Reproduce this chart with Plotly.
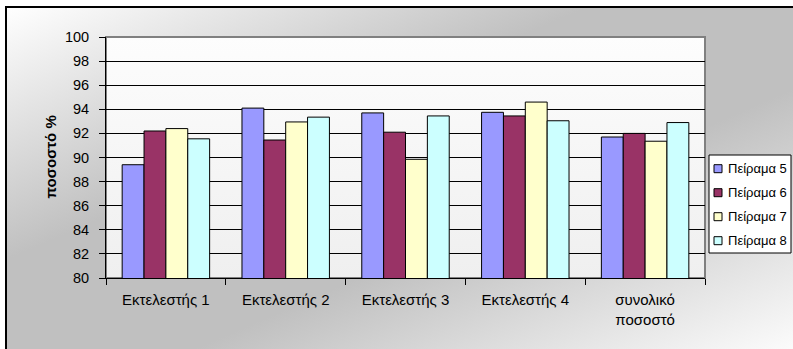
import base64
import plotly.graph_objects as go

categories = ["Εκτελεστής 1", "Εκτελεστής 2", "Εκτελεστής 3", "Εκτελεστής 4", "συνολικό<br>ποσοστό"]
series_names = ["Πείραμα 5", "Πείραμα 6", "Πείραμα 7", "Πείραμα 8"]
peirama5 = [89.4, 94.1, 93.7, 93.75, 91.7]
peirama6 = [92.2, 91.45, 92.1, 93.45, 92.0]
peirama7 = [92.4, 92.95, 89.85, 94.6, 91.35]
peirama8 = [91.55, 93.35, 93.45, 93.05, 92.9]
colors = ["#9999FF", "#993366", "#FFFFCC", "#CCFFFF"]
y_ticks = list(range(80, 101, 2))

W, H = 793, 349
ML, MR, MT, MB = 106, 88, 37, 71
PW, PH = W - ML - MR, H - MT - MB

FONT = "Arial, 'Liberation Sans', sans-serif"


def px2x(px):
    return (px - ML) / PW


def py2y(py):
    return (MT + PH - py) / PH


def svg_uri(svg):
    return "data:image/svg+xml;base64," + base64.b64encode(svg.encode("utf-8")).decode("ascii")


bg_svg = f"""<svg xmlns='http://www.w3.org/2000/svg' width='{W}' height='{H}' viewBox='0 0 {W} {H}' preserveAspectRatio='none'>
<defs><linearGradient id='g' x1='0' y1='0' x2='1' y2='1'>
<stop offset='0' stop-color='#ffffff'/>
<stop offset='0.37' stop-color='#c0c0c0'/>
<stop offset='0.62' stop-color='#c0c0c0'/>
<stop offset='1' stop-color='#fbfbfb'/>
</linearGradient></defs>
<rect x='0' y='0' width='{W}' height='{H}' fill='#ffffff'/>
<rect x='6' y='7' width='{W-6}' height='{H-7}' fill='url(#g)'/>
<line x1='5' y1='7' x2='{W}' y2='7' stroke='#000' stroke-width='2'/>
<line x1='6' y1='6' x2='6' y2='{H}' stroke='#000' stroke-width='2'/>
</svg>"""

plot_svg = f"""<svg xmlns='http://www.w3.org/2000/svg' width='{PW}' height='{PH}' viewBox='0 0 {PW} {PH}' preserveAspectRatio='none'>
<defs><linearGradient id='p' x1='0' y1='0' x2='0' y2='1'>
<stop offset='0' stop-color='#fdfdfd'/>
<stop offset='1' stop-color='#efefef'/>
</linearGradient></defs>
<rect x='0' y='0' width='{PW}' height='{PH}' fill='url(#p)'/>
</svg>"""

fig = go.Figure()
for name, vals, col in zip(series_names, [peirama5, peirama6, peirama7, peirama8], colors):
    fig.add_trace(go.Bar(
        x=categories, y=vals, name=name, showlegend=False,
        marker=dict(color=col, line=dict(color="#000000", width=1)),
    ))

# legend (box, swatches, labels) built from the series names and colours
shapes = [
    dict(type="rect", xref="paper", yref="paper", x0=0, x1=1, y0=0, y1=1,
         line=dict(color="#808080", width=2), layer="below"),
    dict(type="rect", xref="paper", yref="paper",
         x0=px2x(709), x1=px2x(791), y0=py2y(155), y1=py2y(253),
         fillcolor="#ffffff", line=dict(color="#000000", width=1), layer="above"),
]
annotations = [
    dict(text="<b>ποσοστό %</b>", xref="paper", yref="paper",
         x=px2x(50), y=0.5, xanchor="center", yanchor="middle",
         textangle=-90, showarrow=False,
         font=dict(family=FONT, size=15, color="#000000")),
]
for i, (name, col) in enumerate(zip(series_names, colors)):
    cy = 168.7 + 24 * i
    shapes.append(dict(type="rect", xref="paper", yref="paper",
                       x0=px2x(714), x1=px2x(722), y0=py2y(cy + 4), y1=py2y(cy - 4),
                       fillcolor=col, line=dict(color="#000000", width=1), layer="above"))
    annotations.append(dict(text=name, xref="paper", yref="paper",
                            x=px2x(726), y=py2y(cy), xanchor="left", yanchor="middle",
                            showarrow=False,
                            font=dict(family=FONT, size=13, color="#000000")))

fig.update_layout(
    width=W, height=H,
    margin=dict(l=ML, r=MR, t=MT, b=MB, pad=0),
    paper_bgcolor="#ffffff", plot_bgcolor="#f6f6f6",
    barmode="group", bargap=0.27, bargroupgap=0,
    font=dict(family=FONT, size=15, color="#000000"),
    showlegend=False,
    images=[
        dict(source=svg_uri(bg_svg), xref="paper", yref="paper",
             x=-ML / PW, y=1 + MT / PH, sizex=W / PW, sizey=H / PH,
             xanchor="left", yanchor="top", sizing="stretch", layer="below"),
        dict(source=svg_uri(plot_svg), xref="paper", yref="paper",
             x=0, y=1, sizex=1, sizey=1,
             xanchor="left", yanchor="top", sizing="stretch", layer="below"),
    ],
    shapes=shapes,
    annotations=annotations,
)

fig.update_xaxes(
    type="category", showgrid=False,
    showline=True, linecolor="#000000", linewidth=1,
    ticks="outside", tickson="boundaries", ticklen=6, tickcolor="#000000", tickwidth=1,
    ticklabelstandoff=8,
    tickfont=dict(family=FONT, size=15, color="#000000"),
)
fig.update_yaxes(
    range=[80, 100], tickvals=y_ticks, ticktext=[str(v) for v in y_ticks],
    showgrid=True, gridcolor="#000000", gridwidth=1,
    showline=True, linecolor="#000000", linewidth=1,
    ticks="outside", ticklen=6, tickcolor="#000000", tickwidth=1,
    ticklabelstandoff=7,
    tickfont=dict(family=FONT, size=14.5, color="#000000"),
    zeroline=False,
)

fig.write_html("out.html")
